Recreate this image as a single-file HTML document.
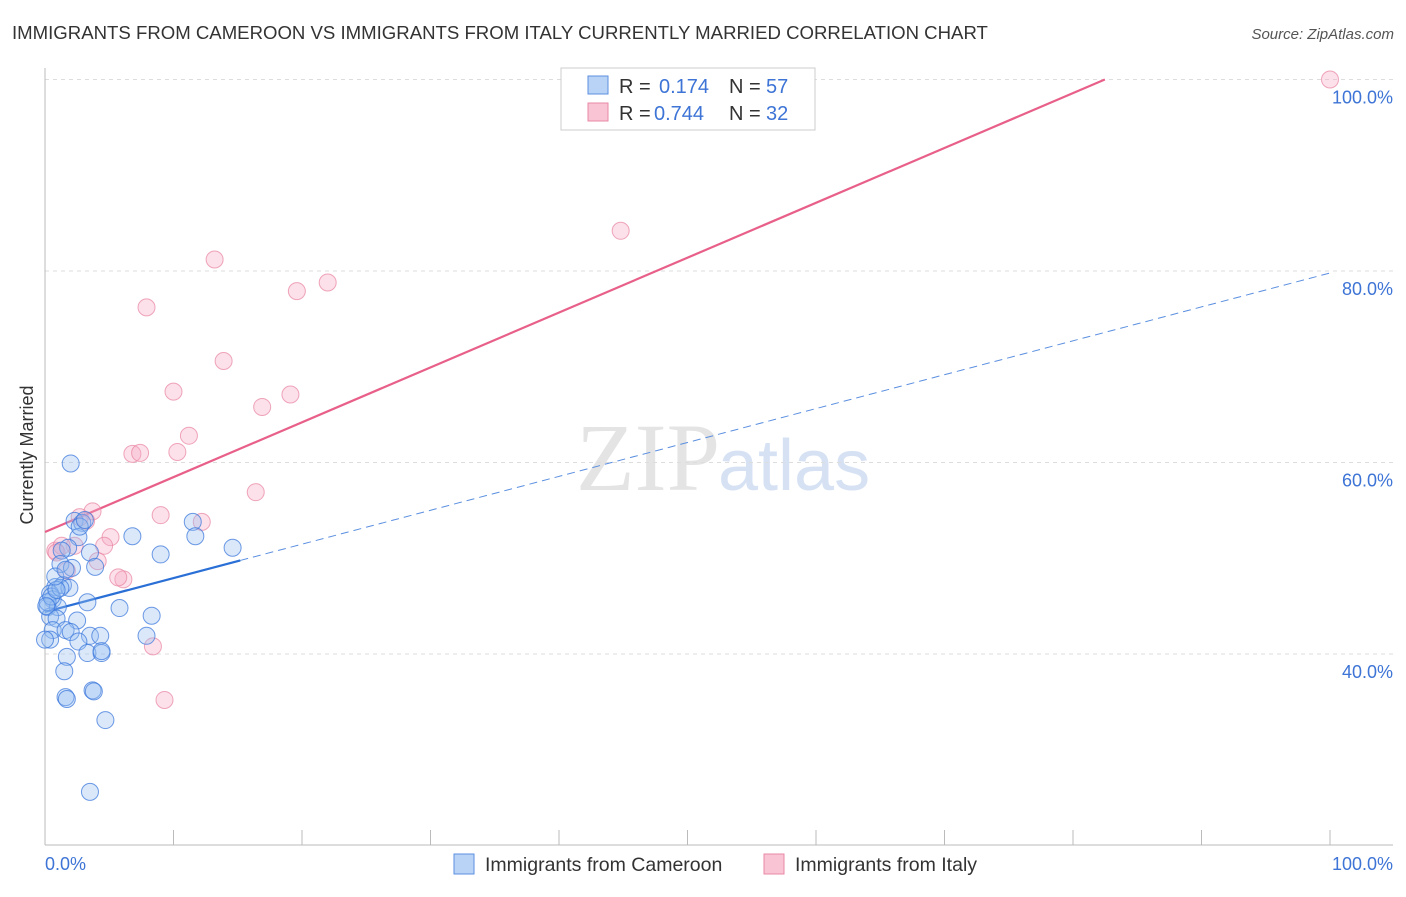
<!DOCTYPE html>
<html><head><meta charset="utf-8"><style>
body{margin:0;background:#fff;font-family:"Liberation Sans",sans-serif}
</style></head><body>
<svg width="1406" height="892" xmlns="http://www.w3.org/2000/svg">
<text x="12" y="39" font-size="18.6" fill="#333">IMMIGRANTS FROM CAMEROON VS IMMIGRANTS FROM ITALY CURRENTLY MARRIED CORRELATION CHART</text>
<text x="1394" y="39" font-size="15" fill="#555" font-style="italic" text-anchor="end">Source: ZipAtlas.com</text>
<text x="720" y="490" font-size="96" fill="#e4e4e4" text-anchor="end" font-family="Liberation Serif">ZIP</text>
<text x="718" y="490" font-size="72" fill="#d6e2f4">atlas</text>
<g id="grid"></g>
<line x1="45" y1="68" x2="45" y2="845" stroke="#bbb"/>
<line x1="45" y1="845" x2="1393" y2="845" stroke="#bbb"/>
<g id="xticks"></g>
<text x="45" y="870" font-size="18" fill="#3d74d6">0.0%</text>
<text x="1393" y="870" font-size="18" fill="#3d74d6" text-anchor="end">100.0%</text>
<text transform="translate(33,455) rotate(-90)" font-size="18" fill="#333" text-anchor="middle">Currently Married</text>
<g id="lines"></g>
<g id="pts"></g>
<g>
<rect x="561" y="68" width="254" height="62" fill="#fff" stroke="#ccc"/>
<rect x="588" y="76" width="20" height="18" fill="#b8d3f5" stroke="#5b8fe0"/>
<rect x="588" y="103" width="20" height="18" fill="#f9c5d5" stroke="#e889a6"/>
<text y="93" font-size="20" fill="#333"><tspan x="619">R =</tspan><tspan x="659" fill="#3d74d6">0.174</tspan><tspan x="729">N =</tspan><tspan x="766" fill="#3d74d6">57</tspan></text>
<text y="120" font-size="20" fill="#333"><tspan x="619">R =</tspan><tspan x="654" fill="#3d74d6">0.744</tspan><tspan x="729">N =</tspan><tspan x="766" fill="#3d74d6">32</tspan></text>
</g>
<g>
<rect x="454" y="854" width="20" height="20" fill="#b8d3f5" stroke="#5b8fe0"/>
<text x="485" y="871" font-size="19.5" fill="#333">Immigrants from Cameroon</text>
<rect x="764" y="854" width="20" height="20" fill="#f9c5d5" stroke="#e889a6"/>
<text x="795" y="871" font-size="19.5" fill="#333">Immigrants from Italy</text>
</g>
</svg>
<script>
const yTicks=[40,60,80,100];
const xTicks=[0,10,20,30,40,50,60,70,80,90,100];
const blueX=[2.0,2.3,2.9,2.6,1.8,1.3,3.5,1.2,2.1,3.9,0.8,1.4,1.9,0.4,0.6,0.2,1.0,3.3,5.8,8.3,0.4,0.9,2.5,0.6,1.6,2.0,3.5,4.3,7.9,2.6,0.4,3.3,4.4,4.4,1.7,1.5,1.6,1.7,3.7,3.8,4.7,3.5,6.8,9.0,11.5,11.7,14.6,0.2,0.5,1.2,0.9,0.1,2.7,3.1,0.8,0.0,1.6];
const blueY=[59.9,53.9,53.7,52.2,51.1,50.8,50.6,49.4,49.0,49.1,47.0,47.2,46.9,46.3,45.7,44.9,44.9,45.4,44.8,44.0,43.9,43.7,43.5,42.5,42.5,42.3,41.9,41.9,41.9,41.3,41.5,40.1,40.1,40.3,39.7,38.2,35.5,35.3,36.2,36.1,33.1,25.6,52.3,50.4,53.8,52.3,51.1,45.4,46.0,46.9,46.7,45.0,53.3,54.0,48.1,41.5,48.8];
const pinkX=[100,44.8,13.2,19.6,22.0,7.9,13.9,10.0,19.1,16.9,11.2,10.3,6.8,7.4,16.4,9.0,12.2,3.7,3.2,5.1,4.6,2.3,0.8,4.1,6.1,5.7,8.4,9.3,1.7,1.3,2.7,0.9];
const pinkY=[100,84.2,81.2,77.9,78.8,76.2,70.6,67.4,67.1,65.8,62.8,61.1,60.9,61.0,56.9,54.5,53.8,54.9,53.9,52.2,51.3,51.3,50.8,49.7,47.8,48.0,40.8,35.2,48.7,51.3,54.3,50.6];
const X=v=>45+v*12.85, Y=v=>654-(v-40)*9.575;
const NS='http://www.w3.org/2000/svg';
function mk(t,a,p){const e=document.createElementNS(NS,t);for(const k in a)e.setAttribute(k,a[k]);document.getElementById(p).appendChild(e);return e;}
yTicks.forEach(v=>{
 const l=mk('line',{x1:45,x2:1393,y1:Y(v),y2:Y(v),stroke:'#ddd','stroke-dasharray':'4,4'},'grid');
 
 
 const t=mk('text',{x:1393,y:Y(v)+24,'font-size':18,fill:'#3d74d6','text-anchor':'end'},'grid');
 t.textContent=v.toFixed(1)+'%';
 
 
});
xTicks.forEach(v=>{
 const l=mk('line',{x1:X(v),x2:X(v),y1:830,y2:845,stroke:'#bbb'},'xticks');
 
 
});
const pa=52.74,pb=0.573,ba=44.39,bb=0.354,bEnd=15.2;
const pEnd=(100-pa)/pb;
let l=mk('line',{x1:X(0),y1:Y(pa),x2:X(pEnd),y2:Y(100),stroke:'#e8608a','stroke-width':2.2},'lines');


l=mk('line',{x1:X(0),y1:Y(ba),x2:X(bEnd),y2:Y(ba+bb*bEnd),stroke:'#2a6fd6','stroke-width':2.2},'lines');


l=mk('line',{x1:X(bEnd),y1:Y(ba+bb*bEnd),x2:X(100),y2:Y(ba+bb*100),stroke:'#5b8fe0','stroke-width':1,'stroke-dasharray':'8,5'},'lines');


pinkX.forEach((x,i)=>{
 const c=mk('circle',{cx:X(x),cy:Y(pinkY[i]),r:8.5,fill:'rgba(246,170,195,0.35)',stroke:'rgba(232,130,160,0.7)','stroke-width':1},'pts');
 
 
});
blueX.forEach((x,i)=>{
 const c=mk('circle',{cx:X(x),cy:Y(blueY[i]),r:8.5,fill:'rgba(150,190,240,0.35)',stroke:'rgba(60,120,220,0.75)','stroke-width':1},'pts');
 
 
});
</script>
</body></html>
